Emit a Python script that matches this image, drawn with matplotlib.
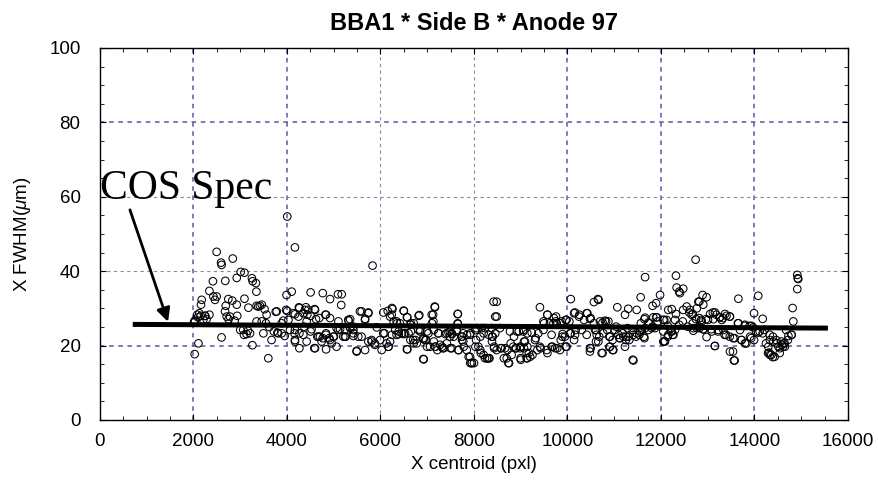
import matplotlib
matplotlib.use("Agg")
import matplotlib.pyplot as plt
from matplotlib.ticker import MultipleLocator

plt.rcParams['font.family'] = ['Liberation Sans', 'DejaVu Sans']
plt.rcParams['mathtext.fontset'] = 'custom'
plt.rcParams['mathtext.it'] = 'Liberation Sans:italic'
plt.rcParams['mathtext.rm'] = 'Liberation Sans'

title = "BBA1 * Side B * Anode 97"
xlabel = "X centroid (pxl)"
ylabel = r"X FWHM($\mu$m)"
annot_text = "COS Spec"

x_ticks = [0, 2000, 4000, 6000, 8000, 10000, 12000, 14000, 16000]
y_ticks = [0, 20, 40, 60, 80, 100]

# COS spec line (start / end)
spec_x = [700, 15570]
spec_y = [25.7, 24.7]
arrow_tail = (640, 56.5)
arrow_tip = (1455, 26.4)
text_pos = (0, 59.3)

# --- measured points, segment 1 (2000-4200 pxl) ---
x_seg1 = [2495, 2590, 2600, 2840, 4005, 4170, 3010, 3090, 3250, 3265, 3335, 3345,
          2415, 2680, 2925, 2340, 2175, 2160, 2425, 2495, 2460, 2745, 2830, 2690,
          3090, 2925, 3175, 3350, 3420, 2675, 2710, 2780, 2935, 3990, 4100, 3980,
          4170, 2030, 2080, 2155, 2245, 2340, 2280, 2105, 2025, 2600, 3065, 3135,
          3210, 3260, 3460, 3550, 3620, 3495, 3670, 3600, 3780, 3885, 3795, 3885,
          4005, 4065, 4030, 3385, 3460, 3350, 3565, 2210, 2250, 2095, 2125, 3000,
          3165, 3080, 3520, 3720, 3810, 3920, 3950, 2750, 2880, 3760, 2010, 2025]
y_seg1 = [45.2, 42.3, 41.7, 43.4, 54.7, 46.4, 39.8, 39.6, 38.1, 37.3, 36.8, 34.5,
          37.3, 37.4, 38.2, 34.7, 32.3, 31.0, 33.2, 33.2, 32.3, 32.5, 32.1, 30.7,
          32.6, 31.0, 30.2, 30.7, 30.7, 29.2, 27.8, 27.8, 28.0, 33.6, 34.5, 29.6,
          28.4, 26.5, 28.3, 28.0, 28.0, 28.3, 27.1, 20.6, 17.7, 22.2, 24.2, 23.1,
          23.3, 20.1, 26.5, 26.0, 25.0, 23.3, 21.5, 16.6, 29.2, 26.0, 23.5, 23.3,
          29.3, 24.2, 26.9, 30.5, 31.0, 26.5, 28.3, 26.9, 28.0, 27.6, 28.7, 24.2,
          24.0, 22.9, 29.8, 23.8, 23.3, 26.7, 22.6, 27.1, 26.7, 29.1, 26.2, 26.7]

# --- segment 2 (4200-6200 pxl) ---
x_seg2 = [4255, 4405, 4455, 4505, 4590, 4765, 4920, 5090, 5170, 5160,
          4160, 4170, 4265, 4265, 4365, 4420, 4420, 4525, 4585, 4650, 4705, 4765,
          4835, 4835, 4905, 4955, 5005, 5060, 5060, 5135, 5205, 5255, 5350, 5420,
          5420, 5490, 5560, 4245, 4350, 4505, 4620, 4820, 4920, 5100, 5320,
          4135, 4265, 4385, 4435, 4600, 4690, 4835, 5310, 5740, 5670, 6240,
          4170, 4170, 4350, 4505, 4670, 4600, 4740, 4835, 4920, 4990, 5100, 5240,
          5240, 5350, 5420, 5595, 5670, 5740, 5810, 5880, 5990, 6025, 6060, 6170,
          6205, 5830, 5595, 5740, 5670, 5350, 5420, 5920, 5490, 5525, 5810, 5880]
y_seg2 = [30.3, 30.3, 29.6, 34.3, 29.8, 34.1, 32.5, 33.8, 33.8, 30.9,
          23.3, 21.1, 23.3, 19.3, 25.1, 26.5, 21.1, 24.4, 19.3, 22.4, 22.4, 22.0,
          23.3, 19.0, 22.0, 20.6, 22.4, 24.7, 19.7, 24.4, 22.4, 22.4, 27.1, 25.1,
          22.6, 18.4, 29.2, 27.8, 28.7, 28.0, 27.1, 28.3, 27.4, 26.5, 26.7,
          28.7, 30.1, 29.6, 28.3, 29.6, 27.4, 28.3, 26.9, 28.7, 26.9, 28.3,
          24.2, 21.5, 22.9, 23.8, 22.4, 19.3, 21.1, 22.9, 21.5, 22.4, 24.2, 24.2,
          22.4, 24.7, 23.3, 22.4, 18.8, 21.1, 21.5, 20.6, 21.5, 18.8, 23.3, 19.7,
          21.1, 41.5, 29.2, 28.9, 27.2, 24.9, 24.2, 24.9, 18.6, 22.4, 21.1, 20.2]

# --- segment 3 (6000-9100 pxl) ---
x_seg3 = [6060, 6155, 6255, 6205, 6500, 6575, 6830, 7095, 7165, 7130, 7650, 7650,
          8485, 8485, 6085, 6345, 6415, 6455, 6525, 6650, 6650, 6810, 6845, 7025,
          7235, 7415, 7485, 7525, 7630, 7770, 7915, 8055, 8165, 8235, 8380, 8555,
          8770, 8915, 9055, 6130, 6170, 6345, 6575, 6700, 6775, 6915, 6975, 6915,
          7060, 7165, 7215, 7275, 7330, 7485, 7525, 7665, 7735, 7770, 7845, 7915,
          7950, 8000, 8045, 8095, 8145, 8235, 8285, 8330, 8400, 8430, 8485, 8590,
          8665, 8700, 8735, 8805, 8840, 8900, 8985, 8995, 9070, 9125,
          6245, 6495, 6565, 6815, 7160, 7125, 7655, 7655, 8420, 8455,
          6280, 6355, 6315, 6390, 6495, 6600, 6640, 6710, 6850, 6995, 7100, 7140,
          7245, 7385, 7455, 7530, 7565, 7635, 7745, 7850, 7920, 8030, 8135, 8205,
          8315, 8385, 8455, 6245, 6390, 6640, 6710, 6745, 6565, 6925, 6960, 6995,
          7140, 7175, 7315, 7350, 7420, 7495, 7670, 7745, 7780, 7885, 7955, 7920,
          8030, 8135, 8205, 8315, 8280, 8385, 6925]
y_seg3 = [28.9, 29.3, 29.8, 27.8, 29.3, 27.6, 28.2, 28.3, 30.3, 26.5, 28.5, 26.0,
          31.8, 27.8, 23.3, 26.5, 26.0, 23.3, 23.3, 26.0, 23.8, 24.2, 23.8, 23.3,
          23.3, 23.3, 23.8, 23.3, 24.2, 23.3, 22.9, 24.7, 24.7, 24.7, 24.7, 24.7,
          23.8, 23.8, 24.2, 20.6, 19.7, 22.9, 19.0, 21.5, 20.6, 22.0, 21.5, 16.4,
          19.7, 19.7, 18.8, 20.2, 19.3, 22.4, 19.3, 18.8, 22.4, 21.1, 18.8, 17.0,
          15.3, 15.3, 21.5, 19.7, 18.0, 16.6, 16.6, 16.6, 22.4, 19.3, 18.8, 19.3,
          19.3, 16.6, 15.3, 17.5, 19.7, 19.3, 19.7, 16.6, 21.1, 16.6,
          30.1, 29.4, 27.6, 28.0, 30.5, 28.3, 28.5, 25.8, 31.8, 27.8,
          26.5, 26.0, 24.2, 23.1, 23.1, 23.3, 25.6, 26.0, 24.2, 23.8, 26.0, 24.2,
          23.3, 23.1, 23.5, 23.1, 22.4, 23.8, 22.4, 22.9, 23.3, 24.2, 22.4, 23.3,
          22.9, 22.4, 23.3, 22.9, 23.8, 21.5, 20.6, 21.5, 19.0, 21.7, 21.5, 19.7,
          21.1, 19.7, 19.7, 19.3, 20.6, 19.3, 18.8, 21.5, 19.7, 17.0, 15.3, 15.3,
          19.7, 18.8, 17.5, 16.6, 16.6, 21.1, 16.3]

# --- segment 4 (8400-12800 pxl) ---
x_seg4 = [12740, 11660, 12320, 12335, 12390, 12475, 12405, 11980, 11565, 11895,
          11820, 10565, 10650, 10070, 9410, 11065, 11300, 11480, 11230, 9570, 9755,
          10160, 10255, 10410, 10480, 12155, 12230, 12320, 12475, 12550, 12605,
          12680, 12800, 12765, 11835, 11910, 12050, 12120, 12300, 11660, 11730,
          10695, 10800, 10875, 9980, 10040, 9875, 9770, 9485, 9625, 9700,
          9055, 9235, 9375, 9485, 9660, 9895, 9945, 10055, 10160, 10305, 10410,
          10590, 10625, 10660, 10765, 10850, 10910, 11015, 11090, 11125, 11195,
          11250, 11300, 11410, 11480, 11550, 11590, 11635, 11660, 11730, 11800,
          11870, 12050, 12085, 12155, 12230, 12300, 12690,
          8985, 9090, 9125, 9200, 9305, 9410, 9555, 9660, 9735, 9840, 9980,
          10480, 10480, 10730, 10910, 10980, 11230, 11410, 12050,
          8855, 8960, 9140, 9320, 9500, 9570, 9710, 9750, 9855, 9960, 10140,
          10245, 10355, 10425, 10495, 10565, 10175, 10070, 9890,
          8430, 8570, 8715, 8785, 8890, 9000, 9070, 9140, 9175, 9250, 8640, 8750,
          9000, 9140, 9355, 9425, 9570, 9675, 9780, 9855, 9960, 10140, 10495,
          10665, 10750, 10825, 11040, 11180, 11285, 11395, 11570, 11645, 11750,
          11820, 11895, 11930, 12070, 12145, 12215, 12265, 12390, 12465, 12570,
          12680, 12750, 12820, 10610, 10680, 10895, 10965, 11110, 11250, 11320,
          11465, 11535, 11645, 10750, 10895, 10965, 11395, 12070, 12145, 12250, 10610]
y_seg4 = [43.1, 38.4, 38.8, 35.6, 34.5, 35.3, 34.1, 33.6, 33.0, 31.4,
          30.7, 31.7, 32.5, 32.5, 30.3, 30.3, 29.9, 29.6, 28.3, 28.3, 27.8,
          28.9, 28.3, 28.7, 27.2, 29.6, 29.8, 28.5, 29.6, 30.5, 28.9,
          28.5, 31.8, 30.0, 27.6, 27.6, 26.9, 26.9, 26.9, 27.5, 26.2,
          26.5, 26.7, 26.5, 26.9, 26.5, 26.5, 26.0, 26.5, 26.0, 26.0,
          23.8, 23.5, 23.3, 24.2, 22.9, 23.1, 22.4, 23.3, 22.9, 24.2, 22.9,
          24.2, 22.9, 21.1, 23.3, 24.2, 22.4, 24.2, 22.9, 22.0, 22.4,
          21.5, 22.4, 22.9, 23.3, 23.8, 24.2, 22.4, 24.7, 24.2, 24.7,
          24.7, 23.8, 21.1, 22.9, 23.8, 24.2, 24.7,
          19.3, 21.1, 18.0, 17.0, 21.5, 19.7, 18.8, 19.7, 19.3, 18.8, 19.7,
          19.3, 18.4, 18.0, 19.7, 18.8, 19.7, 16.0, 21.1,
          22.4, 23.8, 23.3, 22.0, 26.0, 28.3, 27.4, 26.5, 26.0, 26.9, 28.7,
          27.8, 26.9, 28.7, 27.4, 26.0, 24.2, 23.3, 22.4,
          19.7, 19.3, 18.8, 20.6, 19.3, 19.7, 19.3, 19.7, 18.0, 17.5, 16.6, 15.3,
          16.2, 16.6, 18.8, 19.3, 18.0, 19.7, 19.3, 21.5, 19.7, 21.5, 19.3,
          32.3, 26.2, 26.5, 25.1, 23.3, 24.7, 24.2, 26.0, 27.1, 26.0,
          25.1, 27.6, 26.5, 26.9, 25.3, 23.8, 22.9, 25.6, 26.5, 25.1,
          26.0, 27.1, 25.1, 24.2, 22.4, 22.4, 21.5, 22.0, 22.4, 21.5,
          22.4, 22.9, 22.0, 18.0, 19.6, 18.8, 16.2, 21.1, 22.4, 22.9, 21.1]

# --- segment 5 (12600-15000 pxl) ---
x_seg5 = [14915, 14925, 14935, 14915, 14815, 14830, 14795, 14725, 14080, 13655,
          12890, 12975, 12820, 12905, 12620, 12655, 13050, 13155, 13120, 13260,
          13300, 13370, 13475, 12960, 12820, 12870, 13990, 14175, 13655, 13795,
          13940, 12690, 12765, 12905, 12975, 13085, 13225, 13335, 13390, 13545,
          13690, 13725, 13795, 13905, 13990, 14080, 14175, 14245, 14295, 14330,
          14405, 14475, 14510, 14545, 14580, 14620, 14650, 14675, 13155, 13475,
          13560, 14330, 14390, 14315,
          13110, 13185, 13255, 13325, 13400, 13470, 13645, 13790, 13895, 13970,
          14040, 14110, 14215, 14325, 14395, 14465, 14575, 14645, 14715, 14790,
          13005, 12860, 12825, 12900, 13075, 13220, 13360, 13470, 13575, 13720,
          13825, 13930, 13540, 13575, 13150, 14290, 14360, 14430, 14540, 14610]
y_seg5 = [39.0, 38.1, 37.9, 35.2, 30.1, 26.5, 22.9, 22.6, 33.4, 32.6,
          33.6, 33.0, 31.8, 31.0, 29.6, 28.3, 28.5, 28.9, 27.1, 27.6,
          26.9, 28.5, 27.8, 27.1, 27.4, 26.5, 28.7, 27.2, 26.0, 25.6,
          25.3, 24.0, 24.7, 24.4, 22.3, 23.8, 24.2, 24.2, 22.9, 22.0,
          24.2, 21.5, 20.6, 22.4, 21.5, 23.5, 23.3, 20.6, 19.7, 21.5,
          21.1, 20.6, 19.7, 19.3, 20.2, 20.6, 19.7, 24.2, 19.9, 18.4,
          16.0, 17.5, 16.9, 18.1,
          28.9, 28.3, 27.6, 27.4, 28.0, 27.8, 26.0, 25.3, 25.3, 24.9,
          23.8, 23.8, 24.2, 22.9, 22.4, 21.5, 21.1, 20.6, 21.5, 22.9,
          26.9, 26.9, 24.7, 24.4, 24.4, 23.8, 22.9, 22.4, 22.0, 21.5,
          20.6, 22.0, 18.4, 16.0, 19.9, 18.0, 17.5, 17.0, 18.0, 19.7]

x_all = x_seg1 + x_seg2 + x_seg3 + x_seg4 + x_seg5
y_all = y_seg1 + y_seg2 + y_seg3 + y_seg4 + y_seg5

fig = plt.figure(figsize=(8.79, 4.84), dpi=100)
ax = fig.add_axes([100/879, 1-420/484, 748/879, 372/484])

ax.set_xlim(x_ticks[0], x_ticks[-1])
ax.set_ylim(y_ticks[0], y_ticks[-1])

grid_dark = '#6452a6'
grid_light = '#8d87a8'
for xv in x_ticks[1:-1]:
    light = xv in (6000, 8000)
    ax.axvline(xv, color=grid_light if light else grid_dark,
               lw=0.8 if light else 1.1, ls=(0, (3, 3)), zorder=1)
for yv in y_ticks[1:-1]:
    light = yv in (40, 60)
    ax.axhline(yv, color=grid_light if light else grid_dark,
               lw=0.8 if light else 1.1, ls=(0, (3, 3)), zorder=1)

ax.scatter(x_all, y_all, s=30, facecolors='none', edgecolors='black',
           linewidths=0.75, zorder=3)

ax.plot(spec_x, spec_y, color='black', lw=3.6, solid_capstyle='butt', zorder=4)

ax.annotate('', xy=arrow_tip, xytext=arrow_tail,
            arrowprops=dict(arrowstyle='-|>', color='black', lw=2.0,
                            mutation_scale=20, shrinkA=0, shrinkB=0), zorder=5)
ax.text(text_pos[0], text_pos[1], annot_text, family='Liberation Serif',
        fontsize=30, ha='left', va='baseline', zorder=5)

ax.set_xticks(x_ticks)
ax.set_yticks(y_ticks)
ax.xaxis.set_minor_locator(MultipleLocator(500))
ax.yaxis.set_minor_locator(MultipleLocator(5))
ax.tick_params(which='both', direction='in', top=True, right=True, color='black')
ax.tick_params(which='major', length=4.5, width=0.8, labelsize=13.5)
ax.tick_params(which='minor', length=3, width=0.6)
ax.tick_params(axis='x', which='major', pad=9)
ax.tick_params(axis='y', which='major', pad=14)
for sp in ax.spines.values():
    sp.set_linewidth(1.0)

ax.set_xlabel(xlabel, fontsize=13.5, labelpad=5)
ax.set_ylabel(ylabel, fontsize=13.5, labelpad=12)
ax.set_title(title, fontsize=17, fontweight='bold', pad=13)

fig.savefig('out.png', dpi=100)
